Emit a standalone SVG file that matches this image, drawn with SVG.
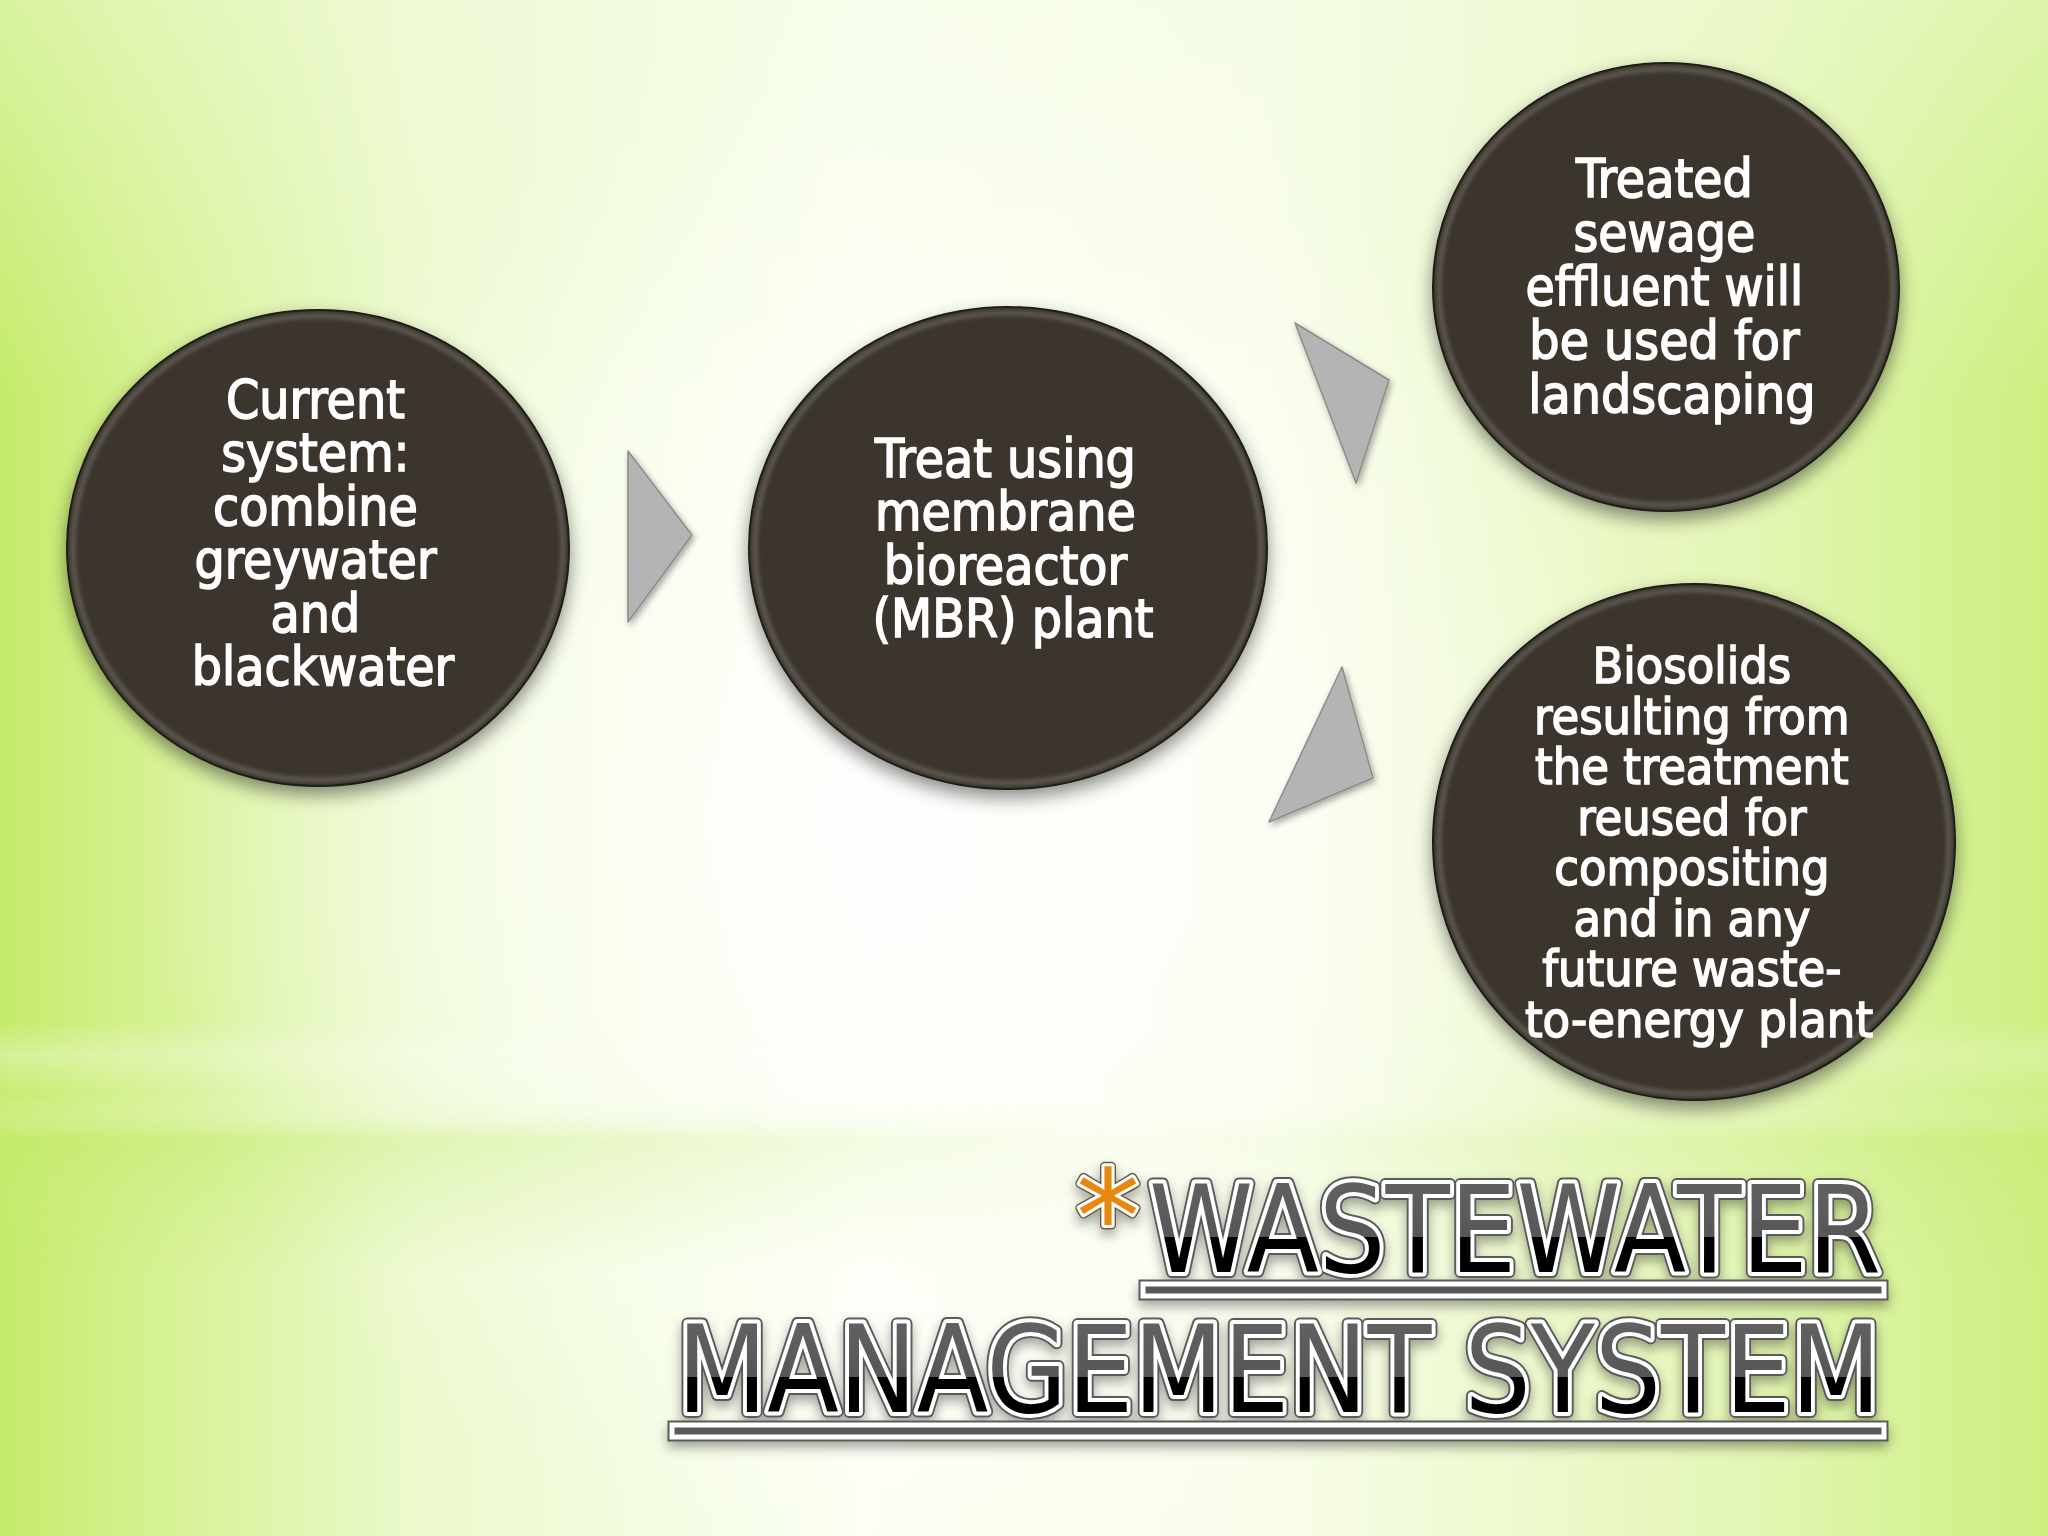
<svg xmlns="http://www.w3.org/2000/svg" width="2048" height="1536" viewBox="0 0 2048 1536">
  <defs>
    <linearGradient id="bgH" x1="0" y1="0" x2="2048" y2="0" gradientUnits="userSpaceOnUse">
      <stop offset="0" stop-color="#c4eb6a"/>
      <stop offset="0.06" stop-color="#d3f08a"/>
      <stop offset="0.2" stop-color="#ebf9cc"/>
      <stop offset="0.42" stop-color="#fbfff3"/>
      <stop offset="0.62" stop-color="#f8fdea"/>
      <stop offset="0.85" stop-color="#e4f6b6"/>
      <stop offset="1" stop-color="#cdef80"/>
    </linearGradient>
    <radialGradient id="bgGlow" cx="900" cy="820" r="760" gradientUnits="userSpaceOnUse">
      <stop offset="0" stop-color="#ffffff" stop-opacity="0.85"/>
      <stop offset="0.55" stop-color="#ffffff" stop-opacity="0.45"/>
      <stop offset="1" stop-color="#ffffff" stop-opacity="0"/>
    </radialGradient>
    <linearGradient id="topV" x1="0" y1="0" x2="0" y2="400" gradientUnits="userSpaceOnUse">
      <stop offset="0" stop-color="#f2fbe0" stop-opacity="0.45"/>
      <stop offset="1" stop-color="#f2fbe0" stop-opacity="0"/>
    </linearGradient>
    <linearGradient id="bandV" x1="0" y1="1020" x2="0" y2="1270" gradientUnits="userSpaceOnUse">
      <stop offset="0" stop-color="#ffffff" stop-opacity="0"/>
      <stop offset="0.14" stop-color="#ffffff" stop-opacity="0.3"/>
      <stop offset="0.3" stop-color="#ffffff" stop-opacity="0.05"/>
      <stop offset="0.48" stop-color="#c2e96a" stop-opacity="0.5"/>
      <stop offset="0.72" stop-color="#c8ec78" stop-opacity="0.3"/>
      <stop offset="1" stop-color="#c8ec78" stop-opacity="0"/>
    </linearGradient>
    <linearGradient id="bandMaskGrad" x1="0" y1="0" x2="2048" y2="0" gradientUnits="userSpaceOnUse">
      <stop offset="0" stop-color="#fff"/>
      <stop offset="0.3" stop-color="#fff" stop-opacity="0.55"/>
      <stop offset="0.55" stop-color="#fff" stop-opacity="0.1"/>
      <stop offset="0.8" stop-color="#fff" stop-opacity="0.35"/>
      <stop offset="1" stop-color="#fff" stop-opacity="0.7"/>
    </linearGradient>
    <mask id="bandMask" maskUnits="userSpaceOnUse" x="0" y="0" width="2048" height="1536">
      <rect x="0" y="0" width="2048" height="1536" fill="url(#bandMaskGrad)"/>
    </mask>
    <filter id="shadow" x="-20%" y="-20%" width="140%" height="150%">
      <feDropShadow dx="0" dy="8" stdDeviation="9" flood-color="#000" flood-opacity="0.45"/>
    </filter>
    <filter id="rimBlur" x="-10%" y="-10%" width="120%" height="120%">
      <feGaussianBlur stdDeviation="2"/>
    </filter>
    <filter id="triShadow" x="-30%" y="-30%" width="160%" height="160%">
      <feDropShadow dx="2" dy="3" stdDeviation="3" flood-color="#000" flood-opacity="0.35"/>
    </filter>
    <filter id="titleShadow" x="-5%" y="-30%" width="110%" height="160%">
      <feDropShadow dx="0" dy="6" stdDeviation="6" flood-color="#000" flood-opacity="0.35"/>
    </filter>
    <linearGradient id="t1Fill" x1="0" y1="1184" x2="0" y2="1272" gradientUnits="userSpaceOnUse">
      <stop offset="0" stop-color="#606060"/>
      <stop offset="0.6" stop-color="#575757"/>
      <stop offset="0.6" stop-color="#050505"/>
      <stop offset="1" stop-color="#000000"/>
    </linearGradient>
    <linearGradient id="t2Fill" x1="0" y1="1324" x2="0" y2="1412" gradientUnits="userSpaceOnUse">
      <stop offset="0" stop-color="#606060"/>
      <stop offset="0.6" stop-color="#575757"/>
      <stop offset="0.6" stop-color="#050505"/>
      <stop offset="1" stop-color="#000000"/>
    </linearGradient>
  </defs>
  <style>
    .disc { fill: #3b362d; stroke: #1c1a15; stroke-width: 2; }
    .rim { fill: none; stroke: #8a867c; stroke-width: 4; stroke-opacity: 0.55; }
    .lbl { font-family: "DejaVu Sans Condensed", "DejaVu Sans", sans-serif; font-stretch: condensed; fill: #ffffff; stroke: #ffffff; stroke-width: 1.5; text-anchor: middle; }
    .l53 { font-size: 53px; }
    .l50 { font-size: 50px; }
    .tri { fill: #b4b4b4; stroke: #8c8c8c; stroke-width: 1.5; stroke-linejoin: round; }
    .title { font-family: "DejaVu Sans Condensed", "DejaVu Sans", sans-serif; font-stretch: condensed; font-size: 121px; stroke-linejoin: round; }
    .tOut { fill: none; stroke: #5a5a5a; stroke-width: 12; }
    .tWhite { fill: none; stroke: #ffffff; stroke-width: 8; }
  </style>

  <!-- background -->
  <rect x="0" y="0" width="2048" height="1536" fill="url(#bgH)"/>
  <rect x="0" y="0" width="2048" height="1536" fill="url(#bgGlow)"/>
  <rect x="0" y="0" width="2048" height="400" fill="url(#topV)"/>
  <rect x="0" y="1020" width="2048" height="250" fill="url(#bandV)" mask="url(#bandMask)"/>

  <!-- connectors (arrow triangles) -->
  <g id="connectors" filter="url(#triShadow)">
    <polygon class="tri" points="628,451 692,535 628,622"/>
    <polygon class="tri" points="1295,323 1389,380 1356,483"/>
    <polygon class="tri" points="1342,667 1373,778 1269,822"/>
  </g>

  <!-- node 1 -->
  <g id="node-current">
    <ellipse class="disc" cx="318" cy="548" rx="251" ry="238" filter="url(#shadow)"/>
    <ellipse class="rim" cx="318" cy="548" rx="245" ry="232" filter="url(#rimBlur)"/>
    <text class="lbl l53">
      <tspan x="323" y="418">Current</tspan>
      <tspan x="323" y="471">system:</tspan>
      <tspan x="323" y="525">combine</tspan>
      <tspan x="323" y="578">greywater</tspan>
      <tspan x="323" y="632">and</tspan>
      <tspan x="323" y="685">blackwater</tspan>
    </text>
  </g>

  <!-- node 2 -->
  <g id="node-treat">
    <ellipse class="disc" cx="1008" cy="548" rx="259" ry="241" filter="url(#shadow)"/>
    <ellipse class="rim" cx="1008" cy="548" rx="253" ry="235" filter="url(#rimBlur)"/>
    <text class="lbl l53">
      <tspan x="1013" y="477">Treat using</tspan>
      <tspan x="1013" y="530">membrane</tspan>
      <tspan x="1013" y="584">bioreactor</tspan>
      <tspan x="1013" y="637">(MBR) plant</tspan>
    </text>
  </g>

  <!-- node 3 -->
  <g id="node-effluent">
    <ellipse class="disc" cx="1666" cy="287" rx="233" ry="224" filter="url(#shadow)"/>
    <ellipse class="rim" cx="1666" cy="287" rx="227" ry="218" filter="url(#rimBlur)"/>
    <text class="lbl l53">
      <tspan x="1672" y="197">Treated</tspan>
      <tspan x="1672" y="251">sewage</tspan>
      <tspan x="1672" y="305">effluent will</tspan>
      <tspan x="1672" y="359">be used for</tspan>
      <tspan x="1672" y="413">landscaping</tspan>
    </text>
  </g>

  <!-- node 4 -->
  <g id="node-biosolids">
    <ellipse class="disc" cx="1694" cy="842" rx="261" ry="258" filter="url(#shadow)"/>
    <ellipse class="rim" cx="1694" cy="842" rx="255" ry="252" filter="url(#rimBlur)"/>
    <text class="lbl l50">
      <tspan x="1699" y="683">Biosolids</tspan>
      <tspan x="1699" y="734">resulting from</tspan>
      <tspan x="1699" y="784">the treatment</tspan>
      <tspan x="1699" y="835">reused for</tspan>
      <tspan x="1699" y="885">compositing</tspan>
      <tspan x="1699" y="936">and in any</tspan>
      <tspan x="1699" y="986">future waste-</tspan>
      <tspan x="1699" y="1037">to-energy plant</tspan>
    </text>
  </g>

  <!-- title -->
  <g id="title" filter="url(#titleShadow)">
    <text x="1108" y="1262" font-family="DejaVu Sans, sans-serif" font-size="128" text-anchor="middle" fill="none" stroke="#6a5a40" stroke-width="9" stroke-linejoin="round">*</text>
    <text x="1108" y="1262" font-family="DejaVu Sans, sans-serif" font-size="128" text-anchor="middle" fill="none" stroke="#ffffff" stroke-width="6" stroke-linejoin="round">*</text>
    <text x="1108" y="1262" font-family="DejaVu Sans, sans-serif" font-size="128" text-anchor="middle" fill="#e8870f">*</text>

    <text class="title tOut" x="1149" y="1272" textLength="732" lengthAdjust="spacingAndGlyphs">WASTEWATER</text>
    <text class="title tWhite" x="1149" y="1272" textLength="732" lengthAdjust="spacingAndGlyphs">WASTEWATER</text>
    <text class="title" x="1149" y="1272" textLength="732" lengthAdjust="spacingAndGlyphs" fill="url(#t1Fill)">WASTEWATER</text>
    <rect x="1143" y="1284" width="741" height="12" fill="none" stroke="#5a5a5a" stroke-width="9"/>
    <rect x="1143" y="1284" width="741" height="12" fill="#595959" stroke="#ffffff" stroke-width="5"/>

    <text class="title tOut" x="677" y="1412" textLength="1204" lengthAdjust="spacingAndGlyphs">MANAGEMENT SYSTEM</text>
    <text class="title tWhite" x="677" y="1412" textLength="1204" lengthAdjust="spacingAndGlyphs">MANAGEMENT SYSTEM</text>
    <text class="title" x="677" y="1412" textLength="1204" lengthAdjust="spacingAndGlyphs" fill="url(#t2Fill)">MANAGEMENT SYSTEM</text>
    <rect x="672" y="1425" width="1212" height="12" fill="none" stroke="#5a5a5a" stroke-width="9"/>
    <rect x="672" y="1425" width="1212" height="12" fill="#595959" stroke="#ffffff" stroke-width="5"/>
  </g>
</svg>
